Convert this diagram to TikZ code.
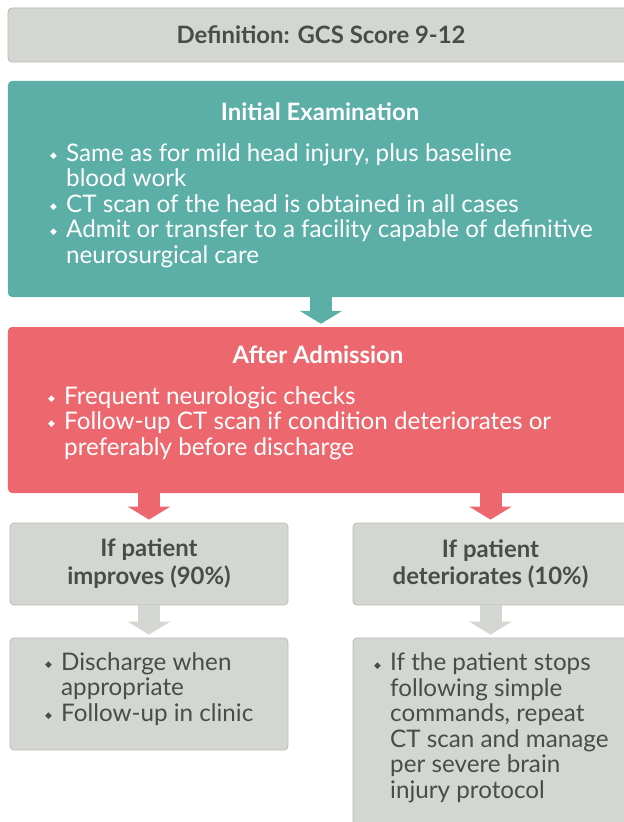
\documentclass[tikz,border=0pt]{standalone}
\usepackage{fontspec}
\setmainfont{Lato}
\newfontfamily\dejavu{DejaVu Sans}
\usetikzlibrary{arrows.meta}

\definecolor{boxgrey}{HTML}{D3D6D1}
\definecolor{boxedge}{HTML}{B8BBB5}
\definecolor{tealbox}{HTML}{5BAFA6}
\definecolor{redbox}{HTML}{EC686E}
\definecolor{inkgrey}{HTML}{4A4D47}

\newcommand{\bul}{\makebox[16bp][l]{\raisebox{0.12em}{\dejavu\fontsize{9}{9}\selectfont ◆}}}
\newcommand{\ind}{\hspace*{16bp}}

\begin{document}
\begin{tikzpicture}[x=1bp, y=-1bp,
  card/.style={rounded corners=4bp, inner sep=0pt},
  greycard/.style={card, fill=boxgrey, draw=boxedge, line width=0.8bp, text=inkgrey},
  tealcard/.style={card, fill=tealbox},
  redcard/.style={card, fill=redbox},
  head/.style={font=\fontsize{24}{28}\selectfont\bfseries, align=center},
  list/.style={anchor=base west, inner sep=0pt, align=left, font=\fontsize{24.3}{25.5}\selectfont},
  flow/.style={line width=22bp, -{Triangle[width=42bp, length=13bp]}, shorten >=3bp}
]

\useasboundingbox (0,0) rectangle (624,822);
\clip (0,0) rectangle (624,822);

% boxes
\node[greycard, head, minimum width=626bp, minimum height=54bp] (def) at (321,35) {Definition: GCS Score 9-12};
\node[tealcard, minimum width=626bp, minimum height=216bp] (exam) at (321,189) {};
\node[redcard, minimum width=626bp, minimum height=166bp] (admit) at (321,410) {};
\node[greycard, head, minimum width=278bp, minimum height=82bp] (better) at (149,564) {If patient\\improves (90\%)};
\node[greycard, head, minimum width=275bp, minimum height=82bp] (worse) at (490.5,564) {If patient\\deteriorates (10\%)};
\node[greycard, minimum width=278bp, minimum height=112bp] (discharge) at (149,694) {};
\node[greycard, minimum width=275bp, minimum height=197bp] (repeat) at (490.5,736.5) {};

% arrows
\draw[flow, tealbox] (exam.south) -- (admit.north);
\draw[flow, redbox] (admit.south -| better.north) -- (better.north);
\draw[flow, redbox] (admit.south -| worse.north) -- (worse.north);
\draw[flow, boxgrey] (better.south) -- (discharge.north);
\draw[flow, boxgrey] (worse.south) -- (repeat.north);

% texts (lists are anchored at their last baseline)
\node[head, white, anchor=base] (examT) at (320,120) {Initial Examination};
\node[list, white] (examL) at (50,263) {\bul Same as for mild head injury, plus baseline\\
  \ind blood work\\
  \bul CT scan of the head is obtained in all cases\\
  \bul Admit or transfer to a facility capable of definitive\\
  \ind neurosurgical care};

\node[head, white, anchor=base] (admitT) at (318,363) {After Admission};
\node[list, white] (admitL) at (48,455) {\bul Frequent neurologic checks\\
  \bul Follow-up CT scan if condition deteriorates or\\
  \ind preferably before discharge};

\node[list, inkgrey] (dischargeL) at (45,721) {\bul Discharge when\\
  \ind appropriate\\
  \bul Follow-up in clinic};
\node[list, inkgrey] (repeatL) at (374,798) {\bul If the patient stops\\
  \ind following simple\\
  \ind commands, repeat\\
  \ind CT scan and manage\\
  \ind per severe brain\\
  \ind injury protocol};

\end{tikzpicture}
\end{document}
